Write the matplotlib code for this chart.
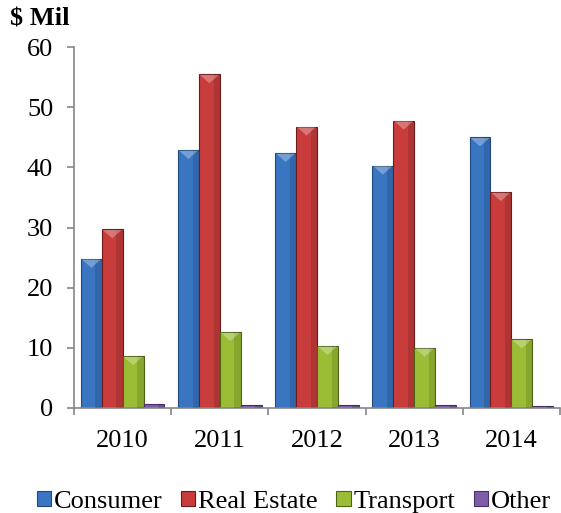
import matplotlib
matplotlib.use("Agg")
import matplotlib.pyplot as plt
import numpy as np

years = ["2010", "2011", "2012", "2013", "2014"]
consumer = [24.8, 42.9, 42.4, 40.3, 45.0]
real_estate = [29.7, 55.5, 46.8, 47.8, 35.9]
transport = [8.6, 12.6, 10.3, 10.0, 11.4]
other = [0.7, 0.5, 0.5, 0.4, 0.3]

series = [("Consumer", consumer, "#3a75c2", "#1f4a80"),
          ("Real Estate", real_estate, "#c83c3c", "#6e1a1a"),
          ("Transport", transport, "#9bbd35", "#4d6417"),
          ("Other", other, "#7d5da8", "#45306a")]

plt.rcParams['font.family'] = ['Liberation Serif', 'DejaVu Serif']

fig = plt.figure(figsize=(5.61, 5.13), dpi=100)
ax = fig.add_axes([0.132, 0.205, 0.866, 0.703])

x = np.arange(len(years))
w = 0.215
start = -1.5 * w
for i, (name, vals, col, edge) in enumerate(series):
    pos = x + start + i * w
    ax.bar(pos, vals, width=w, color=col, edgecolor=edge, linewidth=0.8,
           label=name, zorder=2)
    # darker strip on the right side for the rounded look
    ax.bar(pos + w * 0.35, vals, width=w * 0.3, color="black", alpha=0.12,
           lw=0, zorder=3)
    # light bevel triangle on top of each bar
    for p, v in zip(pos, vals):
        if v > 2:
            ax.fill([p - w / 2 + 0.01, p + w / 2 - 0.01, p],
                    [v - 0.1, v - 0.1, v - 1.5],
                    color="white", alpha=0.3, lw=0, zorder=4)

ax.set_xlim(-0.5, len(years) - 0.5)
ax.set_ylim(0, 60)
ax.set_yticks(range(0, 61, 10))
ax.set_xticks(np.arange(-0.5, len(years), 1.0), minor=False)
ax.set_xticklabels([])
ax.set_xticks(x, minor=True)
ax.set_xticklabels(years, minor=True)
ax.tick_params(axis='x', which='minor', length=0, labelsize=19, pad=16)
ax.tick_params(axis='x', which='major', length=5, color='#868686', width=1.2)
ax.tick_params(axis='y', length=5, color='#868686', width=1.2, labelsize=19, pad=10)

for s in ['top', 'right']:
    ax.spines[s].set_visible(False)
for s in ['left', 'bottom']:
    ax.spines[s].set_color('#868686')
    ax.spines[s].set_linewidth(1.2)

fig.text(0.018, 0.962, "$ Mil", fontsize=19, fontweight='bold', ha='left', va='center')

ax.legend(loc='upper center', bbox_to_anchor=(0.452, -0.2), ncol=4, frameon=False,
          fontsize=19, handlelength=0.55, handleheight=0.55, handletextpad=0.1,
          columnspacing=0.7, borderaxespad=0)

fig.savefig("out.png", dpi=100)
